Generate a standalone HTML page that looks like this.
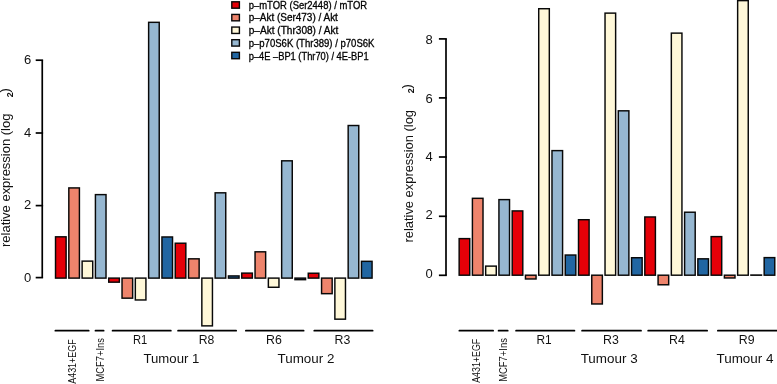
<!DOCTYPE html>
<html><head><meta charset="utf-8"><style>
html,body{margin:0;padding:0;background:#fff;width:777px;height:384px;overflow:hidden}
svg{display:block;will-change:transform;font-family:"Liberation Sans",sans-serif}
</style></head><body>
<svg width="777" height="384" viewBox="0 0 777 384">
<g stroke="#080808" stroke-width="1.45">
<rect x="55.52" y="236.82" width="10.60" height="41.28" fill="#E50008"/>
<rect x="68.82" y="187.92" width="10.60" height="90.18" fill="#EE846C"/>
<rect x="82.12" y="261.12" width="10.60" height="16.98" fill="#FFF8D9"/>
<rect x="95.42" y="194.62" width="10.60" height="83.48" fill="#96B7D1"/>
<rect x="108.73" y="278.10" width="10.60" height="4.07" fill="#E50008"/>
<rect x="122.03" y="278.10" width="10.60" height="20.07" fill="#EE846C"/>
<rect x="135.33" y="278.10" width="10.60" height="21.87" fill="#FFF8D9"/>
<rect x="148.63" y="22.33" width="10.60" height="255.78" fill="#96B7D1"/>
<rect x="161.94" y="236.97" width="10.60" height="41.13" fill="#2166A2"/>
<rect x="175.24" y="243.22" width="10.60" height="34.88" fill="#E50008"/>
<rect x="188.54" y="258.83" width="10.60" height="19.27" fill="#EE846C"/>
<rect x="201.84" y="278.10" width="10.60" height="47.77" fill="#FFF8D9"/>
<rect x="215.15" y="192.82" width="10.60" height="85.28" fill="#96B7D1"/>
<rect x="228.45" y="275.93" width="10.60" height="2.18" fill="#2166A2"/>
<rect x="241.75" y="273.12" width="10.60" height="4.98" fill="#E50008"/>
<rect x="255.05" y="251.82" width="10.60" height="26.28" fill="#EE846C"/>
<rect x="268.36" y="278.10" width="10.60" height="9.17" fill="#FFF8D9"/>
<rect x="281.66" y="160.82" width="10.60" height="117.28" fill="#96B7D1"/>
<rect x="294.96" y="278.10" width="10.60" height="1.57" fill="#2166A2"/>
<rect x="308.26" y="273.23" width="10.60" height="4.88" fill="#E50008"/>
<rect x="321.57" y="278.10" width="10.60" height="15.57" fill="#EE846C"/>
<rect x="334.87" y="278.10" width="10.60" height="41.07" fill="#FFF8D9"/>
<rect x="348.17" y="125.52" width="10.60" height="152.58" fill="#96B7D1"/>
<rect x="361.47" y="261.33" width="10.60" height="16.77" fill="#2166A2"/>
<rect x="459.15" y="238.62" width="10.60" height="36.57" fill="#E50008"/>
<rect x="472.41" y="198.32" width="10.60" height="76.88" fill="#EE846C"/>
<rect x="485.67" y="266.12" width="10.60" height="9.07" fill="#FFF8D9"/>
<rect x="498.93" y="199.62" width="10.60" height="75.57" fill="#96B7D1"/>
<rect x="512.19" y="210.92" width="10.60" height="64.28" fill="#E50008"/>
<rect x="525.46" y="275.20" width="10.60" height="3.77" fill="#EE846C"/>
<rect x="538.72" y="8.72" width="10.60" height="266.47" fill="#FFF8D9"/>
<rect x="551.98" y="150.62" width="10.60" height="124.57" fill="#96B7D1"/>
<rect x="565.24" y="255.03" width="10.60" height="20.17" fill="#2166A2"/>
<rect x="578.50" y="219.72" width="10.60" height="55.47" fill="#E50008"/>
<rect x="591.76" y="275.20" width="10.60" height="28.77" fill="#EE846C"/>
<rect x="605.03" y="13.12" width="10.60" height="262.07" fill="#FFF8D9"/>
<rect x="618.29" y="110.82" width="10.60" height="164.38" fill="#96B7D1"/>
<rect x="631.55" y="257.73" width="10.60" height="17.47" fill="#2166A2"/>
<rect x="644.81" y="216.97" width="10.60" height="58.22" fill="#E50008"/>
<rect x="658.08" y="275.20" width="10.60" height="9.57" fill="#EE846C"/>
<rect x="671.34" y="33.12" width="10.60" height="242.07" fill="#FFF8D9"/>
<rect x="684.60" y="212.22" width="10.60" height="62.97" fill="#96B7D1"/>
<rect x="697.86" y="258.83" width="10.60" height="16.37" fill="#2166A2"/>
<rect x="711.12" y="236.62" width="10.60" height="38.57" fill="#E50008"/>
<rect x="724.39" y="275.20" width="10.60" height="2.77" fill="#EE846C"/>
<rect x="737.65" y="0.62" width="10.60" height="274.57" fill="#FFF8D9"/>
<rect x="750.91" y="275.03" width="10.60" height="0.17" fill="#96B7D1"/>
<rect x="764.17" y="257.62" width="10.60" height="17.57" fill="#2166A2"/>
</g>
<g stroke="#000" stroke-width="1.7" fill="none" stroke-linecap="butt"><path d="M42.25 60.2V277.6"/><path d="M35.7 60.2H43.1"/><path d="M35.7 133.0H43.1"/><path d="M35.7 205.6H43.1"/><path d="M35.7 277.6H43.1"/><path d="M446.0 38.9V275.3"/><path d="M438.9 38.9H446.85"/><path d="M438.9 97.9H446.85"/><path d="M438.9 157.0H446.85"/><path d="M438.9 216.3H446.85"/><path d="M438.9 275.3H446.85"/></g>
<g font-size="13" text-anchor="end" fill="#111"><text x="31.2" y="63.7">6</text><text x="31.2" y="136.8">4</text><text x="31.2" y="209.25">2</text><text x="31.2" y="281.5">0</text><text x="432.8" y="44.0">8</text><text x="432.8" y="102.5">6</text><text x="432.8" y="160.75">4</text><text x="432.8" y="219.1">2</text><text x="432.8" y="277.6">0</text></g>
<g stroke="#000" stroke-width="1.7" stroke-linecap="round"><path d="M55.35 330.7H88.75"/><path d="M95.45 330.7H103.65"/><path d="M112.55 330.7H170.85"/><path d="M178.05 330.7H236.15"/><path d="M245.85 330.7H303.65"/><path d="M314.25 330.7H372.65"/><path d="M459.35 330.7H493.15"/><path d="M498.55 330.7H507.75"/><path d="M516.05 330.7H574.45"/><path d="M582.05 330.7H641.05"/><path d="M648.15 330.7H707.15"/><path d="M717.85 330.7H777.15"/></g>
<g font-size="13" text-anchor="middle" fill="#111"><text x="140.2" y="344.4" textLength="14.3" lengthAdjust="spacingAndGlyphs">R1</text><text x="206.6" y="344.4" textLength="15.6" lengthAdjust="spacingAndGlyphs">R8</text><text x="274" y="344.4" textLength="15.8" lengthAdjust="spacingAndGlyphs">R6</text><text x="342.4" y="344.4" textLength="15.8" lengthAdjust="spacingAndGlyphs">R3</text><text x="544" y="344.4" textLength="15.2" lengthAdjust="spacingAndGlyphs">R1</text><text x="610.9" y="344.4" textLength="15.8" lengthAdjust="spacingAndGlyphs">R3</text><text x="677" y="344.4" textLength="15.8" lengthAdjust="spacingAndGlyphs">R4</text><text x="746.75" y="344.4" textLength="15.8" lengthAdjust="spacingAndGlyphs">R9</text><text x="171.4" y="363.2" textLength="55.8" lengthAdjust="spacingAndGlyphs">Tumour 1</text><text x="306.0" y="363.2" textLength="56.8" lengthAdjust="spacingAndGlyphs">Tumour 2</text><text x="609.15" y="363.2" textLength="57.0" lengthAdjust="spacingAndGlyphs">Tumour 3</text><text x="745" y="363.2" textLength="57.1" lengthAdjust="spacingAndGlyphs">Tumour 4</text></g>
<g font-size="11" fill="#111"><text transform="translate(76.3 383.8) rotate(-90)" textLength="44.5" lengthAdjust="spacingAndGlyphs">A431+EGF</text><text transform="translate(103.7 381.6) rotate(-90)" textLength="43.5" lengthAdjust="spacingAndGlyphs">MCF7+Ins</text><text transform="translate(480.2 382.8) rotate(-90)" textLength="44" lengthAdjust="spacingAndGlyphs">A431+EGF</text><text transform="translate(506.9 381.8) rotate(-90)" textLength="43.7" lengthAdjust="spacingAndGlyphs">MCF7+Ins</text></g>
<g font-size="13" fill="#111"><text transform="translate(10.2 247) rotate(-90)" textLength="133.4" lengthAdjust="spacingAndGlyphs">relative expression (log</text><text transform="translate(12.8 97.3) rotate(-90)" font-size="9" font-weight="bold">2</text><text transform="translate(8.6 92.6) rotate(-90)">)</text><text transform="translate(412.7 242.5) rotate(-90)" textLength="132.5" lengthAdjust="spacingAndGlyphs">relative expression (log</text><text transform="translate(414.4 93.2) rotate(-90)" font-size="9" font-weight="bold">2</text><text transform="translate(410.8 88.4) rotate(-90)">)</text></g>
<g><rect x="231.8" y="1.80" width="7.6" height="6.4" fill="#E50008" stroke="#080808" stroke-width="1.4"/><text x="248.7" y="8.80" font-size="10.2" fill="#000" stroke="#000" stroke-width="0.3" textLength="118.4" lengthAdjust="spacingAndGlyphs">p–mTOR (Ser2448) / mTOR</text><rect x="231.8" y="14.43" width="7.6" height="6.4" fill="#EE846C" stroke="#080808" stroke-width="1.4"/><text x="248.7" y="21.49" font-size="10.2" fill="#000" stroke="#000" stroke-width="0.3" textLength="89.2" lengthAdjust="spacingAndGlyphs">p–Akt (Ser473) / Akt</text><rect x="231.8" y="27.06" width="7.6" height="6.4" fill="#FFF8D9" stroke="#080808" stroke-width="1.4"/><text x="248.7" y="34.18" font-size="10.2" fill="#000" stroke="#000" stroke-width="0.3" textLength="89.7" lengthAdjust="spacingAndGlyphs">p–Akt (Thr308) / Akt</text><rect x="231.8" y="39.69" width="7.6" height="6.4" fill="#96B7D1" stroke="#080808" stroke-width="1.4"/><text x="248.7" y="46.87" font-size="10.2" fill="#000" stroke="#000" stroke-width="0.3" textLength="125.8" lengthAdjust="spacingAndGlyphs">p–p70S6K (Thr389) / p70S6K</text><rect x="231.8" y="52.32" width="7.6" height="6.4" fill="#2166A2" stroke="#080808" stroke-width="1.4"/><text x="248.7" y="59.56" font-size="10.2" fill="#000" stroke="#000" stroke-width="0.3" textLength="120.0" lengthAdjust="spacingAndGlyphs">p–4E –BP1 (Thr70) / 4E-BP1</text></g>
</svg>
</body></html>
